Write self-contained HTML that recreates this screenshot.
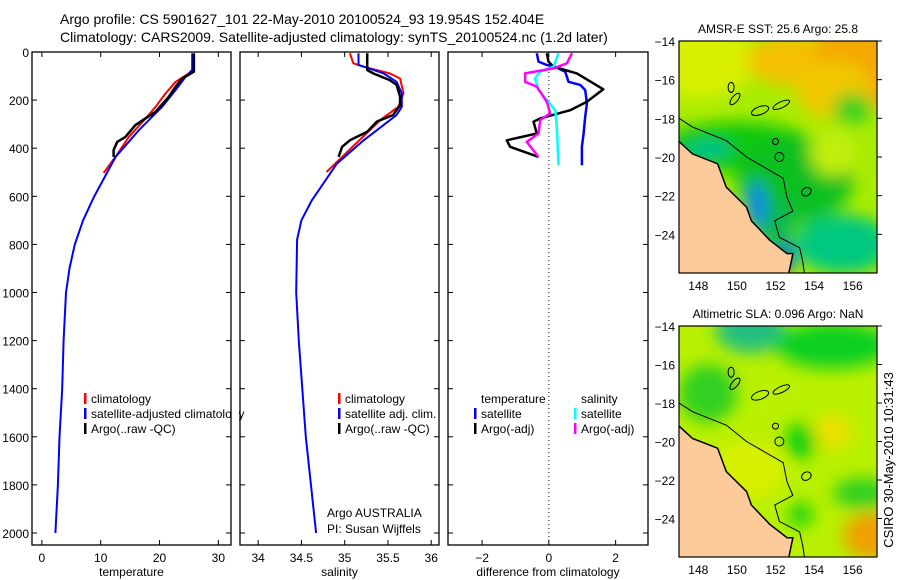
<!DOCTYPE html>
<html><head><meta charset="utf-8"><style>
html,body{margin:0;padding:0;background:#fff;}
svg{display:block;font-family:"Liberation Sans",sans-serif;}
</style></head><body>
<svg id="c" width="900" height="580" viewBox="0 0 900 580" xmlns="http://www.w3.org/2000/svg">
<defs>
<filter id="bl" x="-50%" y="-50%" width="200%" height="200%"><feGaussianBlur stdDeviation="8"/></filter>
<clipPath id="m1c"><rect x="679" y="41" width="198" height="232"/></clipPath>
<clipPath id="m2c"><rect x="679" y="326" width="198" height="231"/></clipPath>
</defs>
<text x="60" y="24" font-size="14">Argo profile: CS 5901627_101 22-May-2010 20100524_93 19.954S 152.404E</text>
<text x="60" y="42" font-size="14">Climatology: CARS2009. Satellite-adjusted climatology: synTS_20100524.nc (1.2d later)</text>
<g id="g"></g>
<text transform="translate(893,460) rotate(-90)" text-anchor="middle" font-size="13">CSIRO 30-May-2010 10:31:43</text>
</svg>
<script>
// ---- data ----
const depthTicks=[0,200,400,600,800,1000,1200,1400,1600,1800,2000];
const tempTicks=[0,10,20,30];
const salTicks=[34,34.5,35,35.5,36];
const diffTicks=[-2,0,2];
const tClimD=[75,89,124,172,228,269,353,436,503];
const tClimV=[25.56,25.0,22.74,21.04,19.34,17.9,14.8,12.5,10.5];
const tSatD=[5,75,103,158,228,269,325,436,603,700,800,900,1000,1200,1400,1600,1800,2000];
const tSatV=[25.56,25.56,24.44,22.74,20.46,18.76,16.5,12.53,8.84,7.0,5.6,4.7,4.1,3.7,3.45,3.0,2.72,2.3];
const tArgoD=[5,82,110,144,186,249,276,304,353,374,408,436];
const tArgoV=[25.85,25.85,23.86,22.74,21.6,19.3,17.6,15.9,14.2,12.8,12.2,12.2];
const sClimD=[5,47,61,89,110,172,228,283,499];
const sClimV=[35.06,35.10,35.22,35.52,35.64,35.68,35.62,35.41,34.79];
const sSatD=[5,54,61,89,124,172,228,262,367,464,617,700,780,1000,1200,1600,2000];
const sSatV=[35.16,35.16,35.22,35.45,35.60,35.66,35.66,35.60,35.22,34.91,34.62,34.5,34.45,34.44,34.47,34.55,34.67];
const sArgoD=[5,75,89,117,137,186,221,262,290,332,367,394,436];
const sArgoV=[35.26,35.26,35.33,35.52,35.60,35.64,35.64,35.56,35.37,35.26,35.06,34.97,34.93];
const dTSatD=[5,40,54,61,82,124,137,158,214,269,339,394,471];
const dTSatV=[-0.36,-0.31,-0.06,0.19,0.49,0.59,0.94,1.09,1.14,1.09,1.04,0.99,0.99];
const dTArgoD=[5,40,61,89,155,207,242,276,290,339,367,394,436];
const dTArgoV=[-0.06,-0.01,0.14,0.84,1.63,1.14,0.64,-0.26,-0.46,-0.36,-1.26,-1.16,-0.31];
const dSSatD=[5,61,82,110,158,200,242,311,471];
const dSSatV=[0.29,0.14,-0.26,-0.41,-0.31,-0.06,0.19,0.24,0.29];
const dSArgoD=[5,47,68,89,124,144,207,255,283,339,374,436];
const dSArgoV=[0.69,0.54,0.14,-0.71,-0.71,-0.36,-0.06,0.04,-0.26,-0.31,-0.66,-0.31];
const latTicks=[-14,-16,-18,-20,-22,-24];
const lonTicks=[148,150,152,154,156];

const NS="http://www.w3.org/2000/svg";
const G=document.getElementById('g');
function mk(t,a,p){const e=document.createElementNS(NS,t);for(const k in a)e.setAttribute(k,a[k]);(p||G).appendChild(e);return e;}
const PT=52,PB=545;
const yD=d=>PT+d*0.2405;
const panels=[
 {x0:32,x1:231,v0:-1.68,v1:32.15,ticks:tempTicks,label:'temperature',name:'temperature'},
 {x0:240,x1:439,v0:33.79,v1:36.09,ticks:salTicks,label:'salinity',name:'salinity'},
 {x0:448,x1:648,v0:-3.02,v1:2.97,ticks:diffTicks,label:'difference from climatology',name:'difference'}
];
panels.forEach(p=>{p.sx=v=>p.x0+(v-p.v0)/(p.v1-p.v0)*(p.x1-p.x0);});
panels.forEach((p,i)=>{
 let r=mk('rect',{x:p.x0,y:PT,width:p.x1-p.x0,height:PB-PT,fill:'none',stroke:'#000','stroke-width':1.3});
 
 
 depthTicks.forEach(d=>{
  const y=yD(d);
  mk('line',{x1:p.x0,x2:p.x0+5,y1:y,y2:y,stroke:'#000'});
  mk('line',{x1:p.x1,x2:p.x1-5,y1:y,y2:y,stroke:'#000'});
  if(i===0){const t=mk('text',{x:p.x0-3,y:y+5,'text-anchor':'end','font-size':12});t.textContent=d;
   
   }
 });
 p.ticks.forEach(v=>{
  const x=p.sx(v);
  mk('line',{x1:x,x2:x,y1:PB,y2:PB-5,stroke:'#000'});
  mk('line',{x1:x,x2:x,y1:PT,y2:PT+5,stroke:'#000'});
  const t=mk('text',{x:x,y:PB+17,'text-anchor':'middle','font-size':12});t.textContent=(v<0?'\u2212'+(-v):v);
  
  
 });
 const l=mk('text',{x:(p.x0+p.x1)/2,y:PB+31,'text-anchor':'middle','font-size':12});l.textContent=p.label;
 
 
});
function line(p,D,V,col,w,name){
 const pts=D.map((d,k)=>p.sx(V[k]).toFixed(1)+','+yD(d).toFixed(1)).join(' ');
 const e=mk('polyline',{points:pts,fill:'none',stroke:col,'stroke-width':w,'stroke-linejoin':'round'});
 
 
}
const [P1,P2,P3]=panels;
let z=mk('line',{x1:P3.sx(0),x2:P3.sx(0),y1:PT,y2:PB,stroke:'#000','stroke-dasharray':'1,3'});


line(P1,tClimD,tClimV,'#f00',2,'temp-climatology-line');
line(P1,tSatD,tSatV,'#00f',2,'temp-satellite-line');
line(P1,tArgoD,tArgoV,'#000',2.5,'temp-argo-line');
line(P2,sClimD,sClimV,'#f00',2,'sal-climatology-line');
line(P2,sSatD,sSatV,'#00f',2,'sal-satellite-line');
line(P2,sArgoD,sArgoV,'#000',2.5,'sal-argo-line');
line(P3,dTSatD,dTSatV,'#00f',2.5,'diff-temp-satellite-line');
line(P3,dTArgoD,dTArgoV,'#000',2.5,'diff-temp-argo-line');
line(P3,dSSatD,dSSatV,'#0ff',2.5,'diff-sal-satellite-line');
line(P3,dSArgoD,dSArgoV,'#f0f',2.5,'diff-sal-argo-line');
function leg(x,y,col,txt,name){
 if(col){mk('rect',{x:x,y:y-10,width:2.5,height:11,fill:col});}
 const t=mk('text',{x:x+7,y:y,'font-size':12});t.textContent=txt;
 
 
}
leg(84,403,'#f00','climatology','legend-climatology');
leg(84,418,'#00f','satellite-adjusted climatology','legend-satellite-adjusted');
leg(84,433,'#000','Argo(..raw -QC)','legend-argo');
leg(338,403,'#f00','climatology','legend-sal-climatology');
leg(338,418,'#00f','satellite adj. clim.','legend-sal-satellite');
leg(338,433,'#000','Argo(..raw -QC)','legend-sal-argo');
leg(474,403,null,'temperature','legend-temperature-header');
leg(474,418,'#00f','satellite','legend-temp-satellite');
leg(474,433,'#000','Argo(-adj)','legend-temp-argo');
leg(574,403,null,'salinity','legend-salinity-header');
leg(574,418,'#0ff','satellite','legend-sal-sat-diff');
leg(574,433,'#f0f','Argo(-adj)','legend-sal-argo-diff');
mk('rect',{x:232,y:405,width:7,height:16,fill:'#fff'});
let t1=mk('text',{x:327,y:517,'font-size':12});t1.textContent='Argo AUSTRALIA';

let t2=mk('text',{x:327,y:533,'font-size':12});t2.textContent='PI: Susan Wijffels';


// ---- maps ----
const coastLon=[147,147.7,149.0,149.45,150.5,150.75,151.7,152.6,152.9,152.65];
const coastLat=[-19.2,-19.84,-20.35,-21.56,-22.6,-23.3,-24.3,-25.0,-25.0,-26.2];
const shelfLon=[147,147.7,149.45,150.5,152.4,152.6,152.9,151.96,152.2,153.25,153.4,153.5];
const shelfLat=[-18.0,-18.45,-19.15,-20.0,-21.1,-22.1,-22.8,-23.3,-24.15,-24.7,-25.35,-26];
function map(top,bottom,title,clip,blobs,base,name){
 const L=679,R=877;
 const mx=lon=>L+(lon-147)*19.3, my=lat=>top+(-14-lat)*(bottom-top)/12;
 const g=mk('g',{'clip-path':'url(#'+clip+')'});
 
 
 mk('rect',{x:L,y:top,width:R-L,height:bottom-top,fill:base},g);
 const bg=mk('g',{filter:'url(#bl)'},g);
 blobs.forEach(b=>mk('ellipse',{cx:mx(b[0]),cy:my(b[1]),rx:b[2]*19.3,ry:b[3]*19.3,fill:b[4]},bg));
 const cpts=coastLon.map((l,k)=>mx(l)+','+my(coastLat[k])).join(' ');
 mk('polygon',{points:cpts+' '+(L-5)+','+(bottom+10)+' '+(L-5)+','+my(-19.2),fill:'#fccb99'},g);
 mk('polyline',{points:cpts,fill:'none',stroke:'#000','stroke-width':1.5},g);
 mk('polyline',{points:shelfLon.map((l,k)=>mx(l)+','+my(shelfLat[k])).join(' '),fill:'none',stroke:'#000','stroke-width':1},g);
 [[152.2,-20.0,4.5],[152.0,-19.2,3]].forEach(c=>mk('circle',{cx:mx(c[0]),cy:my(c[1]),r:c[2],fill:'none',stroke:'#000'},g));
 [[151.2,-17.6,9,4,-20],[149.9,-17.0,7,3,-50],[152.3,-17.3,9,3,-25],[149.7,-16.4,3,5,0],[153.6,-21.8,5,4,-30]].forEach(e=>{
  mk('ellipse',{cx:mx(e[0]),cy:my(e[1]),rx:e[2],ry:e[3],transform:'rotate('+e[4]+' '+mx(e[0])+' '+my(e[1])+')',fill:'none',stroke:'#000'},g);
 });
 mk('rect',{x:L,y:top,width:R-L,height:bottom-top,fill:'none',stroke:'#000','stroke-width':1.2});
 latTicks.forEach(v=>{const y=my(v);mk('line',{x1:R,x2:R+5,y1:y,y2:y,stroke:'#000'});
  const t=mk('text',{x:L-4,y:y+5,'text-anchor':'end','font-size':12});t.textContent='\u2212'+(-v);
  });
 lonTicks.forEach(v=>{const x=mx(v);
  const t=mk('text',{x:x,y:bottom+17,'text-anchor':'middle','font-size':12});t.textContent=v;
  });
 const tt=mk('text',{x:(L+R)/2,y:top-8,'text-anchor':'middle','font-size':12});tt.textContent=title;
 
}
map(41,273,'AMSR-E SST: 25.6 Argo: 25.8','m1c',[
 [148,-15,3,2,'#d8f000'],[153,-15,2.5,1.3,'#f5c000'],[156.5,-15,2.5,2.5,'#f5a800'],[155,-16.5,2,1.5,'#f0c800'],
 [150,-19.5,4,1.3,'#10c810'],[153,-21.2,3,2.2,'#10c020'],[155,-19.8,1.2,1.2,'#c0ee10'],[156,-17.5,1,0.8,'#40d020'],
 [155.5,-24.5,2.5,1.5,'#00c880'],[152,-23.5,1,1.3,'#10b850'],[151,-22.5,0.5,1.2,'#1080f0'],[152.5,-25.2,0.5,0.7,'#0050e0'],
 [148.5,-19.6,1.2,0.35,'#00c0a0']
],'#a8ec00','sst');
map(326,557,'Altimetric SLA: 0.096 Argo: NaN','m2c',[
 [150.7,-14.6,1,0.8,'#0090ff'],[150.7,-14.2,1.8,1.2,'#20c080'],[155,-15,3,1.2,'#10d020'],[148.5,-17.5,1.5,1.5,'#30d020'],
 [153.3,-20,0.8,0.9,'#10d010'],[153.3,-23.8,0.6,0.6,'#10d010'],[156.5,-22.7,1.5,0.8,'#30d020'],
 [157,-24.9,1.5,1.2,'#f0a000'],[155,-19.5,1,0.8,'#f0e000'],[150.5,-21.5,2,1.5,'#d8f000']
],'#b8f000','sla');
</script>
</body></html>
